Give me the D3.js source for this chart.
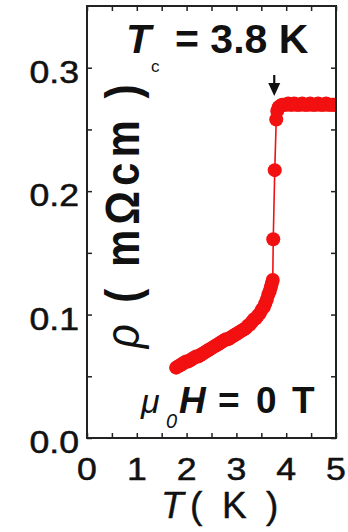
<!DOCTYPE html>
<html>
<head>
<meta charset="utf-8">
<script src="https://cdn.jsdelivr.net/npm/d3@7"></script>
<style>
  body { margin: 0; background: #fff; }
  svg { display: block; }
  text { font-family: "Liberation Sans", Arial, sans-serif; fill: #111; }
</style>
</head>
<body>
<div id="chart"></div>
<script>
// resistivity vs temperature
const tempK = [
  1.79, 1.83, 1.87, 1.91, 1.95, 1.99, 2.03, 2.07, 2.11, 2.15,
  2.19, 2.23, 2.27, 2.31, 2.35, 2.39, 2.43, 2.47, 2.51, 2.55,
  2.59, 2.63, 2.67, 2.71, 2.75, 2.79, 2.83, 2.87, 2.91, 2.95,
  2.99, 3.03, 3.07, 3.11, 3.15, 3.19, 3.23, 3.27, 3.31, 3.35,
  3.39, 3.43, 3.47, 3.51, 3.55, 3.58, 3.61, 3.64, 3.67, 3.69,
  3.71, 3.73, 3.74, 3.77, 3.80, 3.82, 3.85, 3.88, 3.92, 3.96,
  4.00, 4.04, 4.08, 4.12, 4.16, 4.20, 4.24, 4.28, 4.32, 4.36,
  4.40, 4.44, 4.48, 4.52, 4.56, 4.60, 4.64, 4.68, 4.72, 4.76,
  4.80, 4.84, 4.88, 4.92, 4.96, 5.00
];
const rhoVals = [
  0.057, 0.058, 0.059, 0.060, 0.061, 0.062, 0.062, 0.063, 0.064, 0.065,
  0.066, 0.066, 0.067, 0.068, 0.069, 0.070, 0.071, 0.072, 0.073, 0.074,
  0.075, 0.076, 0.077, 0.078, 0.079, 0.080, 0.080, 0.081, 0.082, 0.083,
  0.084, 0.085, 0.086, 0.087, 0.088, 0.089, 0.091, 0.092, 0.094, 0.096,
  0.097, 0.099, 0.101, 0.104, 0.106, 0.109, 0.112, 0.116, 0.119, 0.122,
  0.125, 0.128, 0.161, 0.217, 0.258, 0.265, 0.268, 0.269, 0.270, 0.270,
  0.270, 0.271, 0.270, 0.270, 0.271, 0.270, 0.270, 0.270, 0.271, 0.270,
  0.270, 0.270, 0.271, 0.270, 0.270, 0.270, 0.271, 0.270, 0.270, 0.270,
  0.271, 0.270, 0.270, 0.270, 0.270, 0.270
];
const xTicks = [0, 1, 2, 3, 4, 5];
const xMinor = [0.5, 1.5, 2.5, 3.5, 4.5];
const yTicks = [0.0, 0.1, 0.2, 0.3];
const yTickLabels = ["0.0", "0.1", "0.2", "0.3"];
const yMinor = [0.05, 0.15, 0.25];
const tcValue = 3.8;

const W = 348, H = 532;
const margin = {top: 6, right: 12, bottom: 94, left: 87};

const svg = d3.select("#chart")
  .append("svg")
  .attr("width", W)
  .attr("height", H);

const x = d3.scaleLinear().domain([0, 5]).range([margin.left, W - margin.right]);
const y = d3.scaleLinear().domain([0, 0.35]).range([H - margin.bottom, margin.top]);

const data = tempK.map((t, i) => [t, rhoVals[i]]);
const red = "#f21010";

// clip so the plateau stops at the frame
svg.append("clipPath").attr("id", "plotclip")
  .append("rect")
  .attr("x", x(0)).attr("y", y(0.35))
  .attr("width", x(5) - x(0)).attr("height", y(0) - y(0.35));

const plot = svg.append("g").attr("clip-path", "url(#plotclip)");

plot.append("path")
  .datum(data)
  .attr("fill", "none")
  .attr("stroke", red)
  .attr("stroke-width", 1.6)
  .attr("d", d3.line().x(d => x(d[0])).y(d => y(d[1])));

plot.append("g")
  .selectAll("circle")
  .data(data)
  .join("circle")
  .attr("cx", d => x(d[0]))
  .attr("cy", d => y(d[1]))
  .attr("r", 7)
  .attr("fill", red);

// ticks pointing inward on all four sides
function ticksOnly(g, axis) {
  g.call(axis);
  g.select(".domain").remove();
  g.selectAll(".tick line").attr("stroke", "#222").attr("stroke-width", 1.5);
}
const yBot = y(0), yTop = y(0.35), xLeft = x(0), xRight = x(5);
svg.append("g").attr("transform", `translate(0,${yBot})`)
  .call(g => ticksOnly(g, d3.axisBottom(x).tickValues(xTicks.concat(xMinor)).tickSize(-5).tickFormat("")));
svg.append("g").attr("transform", `translate(0,${yTop})`)
  .call(g => ticksOnly(g, d3.axisTop(x).tickValues(xTicks.concat(xMinor)).tickSize(-5).tickFormat("")));
svg.append("g").attr("transform", `translate(${xLeft},0)`)
  .call(g => ticksOnly(g, d3.axisLeft(y).tickValues(yTicks.concat(yMinor)).tickSize(-5).tickFormat("")));
svg.append("g").attr("transform", `translate(${xRight},0)`)
  .call(g => ticksOnly(g, d3.axisRight(y).tickValues(yTicks.concat(yMinor)).tickSize(-5).tickFormat("")));

// frame
svg.append("rect")
  .attr("x", xLeft).attr("y", yTop)
  .attr("width", xRight - xLeft).attr("height", yBot - yTop)
  .attr("fill", "none")
  .attr("stroke", "#222")
  .attr("stroke-width", 2);

// tick labels (slightly wide lettering as in the original)
svg.append("g")
  .selectAll("text")
  .data(xTicks)
  .join("text")
  .attr("transform", d => `translate(${x(d)},480) scale(1.15,1)`)
  .attr("text-anchor", "middle")
  .attr("font-size", 31)
  .attr("stroke", "#111").attr("stroke-width", 0.5)
  .text(d => d);

svg.append("g")
  .selectAll("text")
  .data(yTicks)
  .join("text")
  .attr("transform", d => `translate(79,${y(d) + 4}) scale(1.15,1)`)
  .attr("text-anchor", "end")
  .attr("dy", "0.36em")
  .attr("font-size", 31)
  .attr("stroke", "#111").attr("stroke-width", 0.5)
  .text((d, i) => yTickLabels[i]);

// y title
const yt = svg.append("text")
  .attr("transform", "translate(139,214) scale(1.15,1) rotate(-90)")
  .attr("text-anchor", "middle")
  .attr("font-size", 42)
  .attr("font-weight", "bold")
  .attr("letter-spacing", 5);
yt.append("tspan").attr("font-style", "italic").attr("font-weight", "normal").text("ρ");
yt.append("tspan").text(" ( mΩcm )");

// x title
const xt = svg.append("text").attr("y", 518).attr("font-size", 37)
  .attr("stroke", "#111").attr("stroke-width", 0.4);
xt.append("tspan").attr("x", 161).attr("font-style", "italic").text("T");
xt.append("tspan").attr("x", 190).text("(");
xt.append("tspan").attr("x", 222).text("K");
xt.append("tspan").attr("x", 266).text(")");

// Tc annotation
const tc = svg.append("text").attr("y", 53).attr("font-size", 41).attr("font-weight", "bold");
tc.append("tspan").attr("x", 126).attr("font-style", "italic").text("T");
tc.append("tspan").attr("x", 151).attr("y", 72).attr("font-size", 17).attr("font-weight", "normal").text("c");
tc.append("tspan").attr("x", 175).attr("y", 53).text("= 3.8 K");

// arrow at Tc
const ax = x(tcValue) - 2;
svg.append("line")
  .attr("x1", ax).attr("x2", ax)
  .attr("y1", 75).attr("y2", 86)
  .attr("stroke", "#111").attr("stroke-width", 2.2);
svg.append("path")
  .attr("d", `M${ax - 6},83 L${ax + 6},83 L${ax},96 Z`)
  .attr("fill", "#111");

// field annotation
const mh = svg.append("text").attr("y", 413).attr("font-size", 37);
mh.append("tspan").attr("x", 141).attr("font-style", "italic").attr("font-size", 34).text("μ");
mh.append("tspan").attr("x", 166).attr("y", 428).attr("font-style", "italic").attr("font-size", 20).text("0");
mh.append("tspan").attr("x", 179).attr("y", 413).attr("font-style", "italic").attr("font-weight", "bold").text("H");
mh.append("tspan").attr("x", 218).attr("font-weight", "bold").text("=");
mh.append("tspan").attr("x", 256).attr("font-weight", "bold").text("0");
mh.append("tspan").attr("x", 292).attr("font-weight", "bold").text("T");
</script>
</body>
</html>
